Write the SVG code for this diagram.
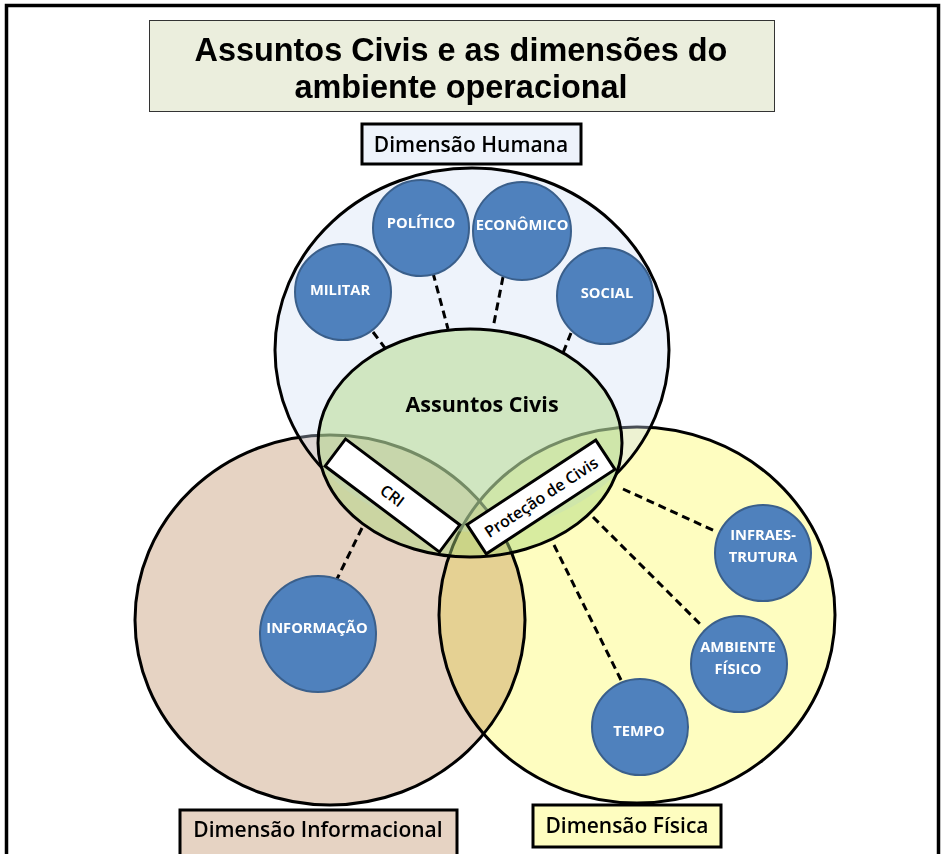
<svg xmlns="http://www.w3.org/2000/svg" width="941" height="854" viewBox="0 0 941 854">
<style>
.lbl{font-family:"Open Sans","Noto Sans",sans-serif;fill:#000;text-anchor:middle;font-weight:600}
.nt{font-family:"Open Sans","Noto Sans",sans-serif;font-weight:bold;font-size:14.7px;fill:#fff;text-anchor:middle}
.node{fill:#4f81bd;stroke:#3a5f8b;stroke-width:2}
.dash{stroke:#000;stroke-width:3;stroke-dasharray:8 5;fill:none}
.outl{fill:none;stroke:#000;stroke-width:3}
.box{fill:#fff;stroke:#000;stroke-width:3}
</style>
<defs>
<mask id="noGreen" maskUnits="userSpaceOnUse" x="0" y="0" width="941" height="854">
<rect x="0" y="0" width="941" height="854" fill="#fff"/>
<ellipse cx="470" cy="443" rx="151" ry="113" fill="#000"/>
</mask>
</defs>
<rect x="0" y="0" width="941" height="854" fill="#fff"/>
<rect x="6.5" y="5.5" width="932" height="870" fill="none" stroke="#000" stroke-width="3.5"/>

<g id="title">
<rect x="149.5" y="20.5" width="625" height="91" fill="#ebeedd" stroke="#333" stroke-width="1"/>
<text x="461" y="61" font-family="Liberation Sans,Arial,sans-serif" font-weight="bold" font-size="32.4" text-anchor="middle">Assuntos Civis e as dimensões do</text>
<text x="461" y="98" font-family="Liberation Sans,Arial,sans-serif" font-weight="bold" font-size="32.4" text-anchor="middle">ambiente operacional</text>
</g>

<g id="dim-informacional">
<ellipse cx="330" cy="620" rx="195" ry="185" fill="#e6d3c3"/>
</g>
<g id="dim-fisica">
<ellipse cx="637" cy="615" rx="198" ry="188" fill="#fefdc0" style="mix-blend-mode:multiply"/>
</g>
<ellipse cx="330" cy="620" rx="195" ry="185" class="outl"/>
<ellipse cx="637" cy="615" rx="198" ry="188" class="outl"/>
<g id="dim-humana">
<ellipse cx="472" cy="350" rx="197" ry="182" fill="#cedcf3" fill-opacity="0.35"/>
<ellipse cx="472" cy="350" rx="197" ry="182" class="outl" mask="url(#noGreen)"/>
</g>
<g id="assuntos-civis">
<ellipse cx="470" cy="443" rx="152" ry="114" fill="#abd87a" fill-opacity="0.45" stroke="#000" stroke-width="3"/>
<text class="lbl" x="482" y="412" style="font-size:21.5px;font-weight:bold">Assuntos Civis</text>
</g>

<g id="connectors">
<line class="dash" x1="373" y1="332" x2="388" y2="352"/>
<line class="dash" x1="433" y1="273" x2="448" y2="329"/>
<line class="dash" x1="503" y1="277" x2="493" y2="328"/>
<line class="dash" x1="571" y1="333" x2="563" y2="353"/>
<line class="dash" x1="362" y1="528" x2="337" y2="579"/>
<line class="dash" x1="623" y1="489" x2="717" y2="532"/>
<line class="dash" x1="593" y1="517" x2="703" y2="627"/>
<line class="dash" x1="554" y1="545" x2="621" y2="680"/>
</g>

<g id="cri">
<g transform="translate(392.5 495.5) rotate(36.9)">
<rect class="box" x="-71.5" y="-17" width="143" height="34"/>
<text class="lbl" x="0" y="6" font-size="16">CRI</text>
</g>
</g>
<g id="protecao-civis">
<g transform="translate(541 497) rotate(-33.3)">
<rect class="box" x="-77" y="-17.5" width="154" height="35"/>
<text class="lbl" x="0" y="6" font-size="16">Proteção de Civis</text>
</g>
</g>

<g id="node-militar"><circle class="node" cx="343" cy="292" r="48"/><text class="nt" x="340" y="295">MILITAR</text></g>
<g id="node-politico"><circle class="node" cx="421" cy="228" r="48"/><text class="nt" x="421" y="228">POLÍTICO</text></g>
<g id="node-economico"><circle class="node" cx="522" cy="231" r="49"/><text class="nt" x="522" y="230">ECONÔMICO</text></g>
<g id="node-social"><circle class="node" cx="605" cy="296" r="48"/><text class="nt" x="607" y="298">SOCIAL</text></g>
<g id="node-informacao"><circle class="node" cx="318" cy="634" r="58"/><text class="nt" x="317" y="633">INFORMAÇÃO</text></g>
<g id="node-infraestrutura"><circle class="node" cx="763" cy="553" r="48"/><text class="nt" x="763" y="540">INFRAES-</text><text class="nt" x="763" y="562">TRUTURA</text></g>
<g id="node-ambiente-fisico"><circle class="node" cx="739" cy="664" r="48"/><text class="nt" x="738" y="652">AMBIENTE</text><text class="nt" x="738" y="674">FÍSICO</text></g>
<g id="node-tempo"><circle class="node" cx="640" cy="727" r="48"/><text class="nt" x="639" y="736">TEMPO</text></g>

<g id="label-humana">
<rect x="362" y="124" width="219" height="40" fill="#eef3fb" stroke="#000" stroke-width="3"/>
<text class="lbl" x="471" y="152" font-size="21">Dimensão Humana</text>
</g>
<g id="label-informacional">
<rect x="180" y="810" width="277" height="50" fill="#e6d3c3" stroke="#000" stroke-width="3"/>
<text class="lbl" x="318" y="837" font-size="21">Dimensão Informacional</text>
</g>
<g id="label-fisica">
<rect x="533" y="805" width="188" height="42" fill="#fefdc0" stroke="#000" stroke-width="3"/>
<text class="lbl" x="627" y="833" font-size="21">Dimensão Física</text>
</g>
</svg>
